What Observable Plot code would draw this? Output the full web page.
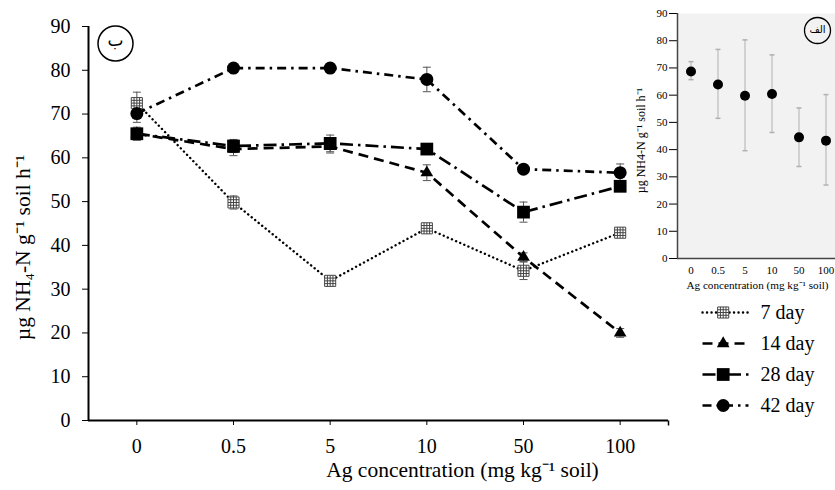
<!DOCTYPE html>
<html>
<head>
<meta charset="utf-8">
<script src="https://cdn.jsdelivr.net/npm/d3@7"></script>
<script src="https://cdn.jsdelivr.net/npm/@observablehq/plot@0.6"></script>
<style>
  html, body { margin: 0; padding: 0; background: #fff; overflow: hidden; }
  #wrap { position: relative; width: 835px; height: 490px; overflow: hidden; font-family: "Liberation Serif", "Times New Roman", serif; }
  #wrap > svg { position: absolute; margin: 0; font-family: "Liberation Serif", "Times New Roman", serif !important; }
  #wrap > svg .ar { font-family: "DejaVu Sans", sans-serif !important; }
</style>
</head>
<body>
<div id="wrap"></div>
<script>
// ---- data ----
const concentrations = ["0", "0.5", "5", "10", "50", "100"];
const seriesNames = ["7 day", "14 day", "28 day", "42 day"];
const day7  = [72.5, 49.8, 31.9, 43.9, 34.2, 42.9];
const err7  = [2.5, 1.5, 0.8, 1.0, 2.0, 0.8];
const day14 = [65.5, 62.0, 62.6, 56.6, 37.3, 20.0];
const err14 = [1.0, 1.5, 1.5, 1.8, 1.0, 1.0];
const day28 = [65.5, 62.7, 63.3, 62.0, 47.6, 53.5];
const err28 = [1.5, 1.5, 1.9, 0.8, 2.3, 0.8];
const day42 = [70.1, 80.5, 80.5, 77.9, 57.4, 56.6];
const err42 = [2.0, 0.8, 0.8, 2.8, 0.8, 2.0];
// inset (panel الف)
const insetMean = [68.7, 63.9, 59.8, 60.4, 44.5, 43.3];
const insetLow  = [65.7, 51.5, 39.6, 46.3, 33.8, 27.0];
const insetHigh = [72.3, 76.8, 80.3, 74.8, 55.3, 60.2];
const yTicks = [0, 10, 20, 30, 40, 50, 60, 70, 80, 90];

// ---- styles ----
const FONT = "Liberation Serif";
const capSymbol = { draw(ctx) { ctx.moveTo(-4, 0); ctx.lineTo(4, 0); } };
const smallCap = { draw(ctx) { ctx.moveTo(-2.5, 0); ctx.lineTo(2.5, 0); } };
const endTick = { draw(ctx) { ctx.moveTo(0, 0); ctx.lineTo(0, 5); } };
const hatchSquare = { draw(ctx, size) {
  const h = Math.sqrt(size / Math.PI) * 0.88;
  ctx.moveTo(-h, -h); ctx.lineTo(h, -h); ctx.lineTo(h, h); ctx.lineTo(-h, h); ctx.closePath();
  for (const f of [-0.5, 0, 0.5]) {
    ctx.moveTo(-h, f * h); ctx.lineTo(h, f * h);
    ctx.moveTo(f * h, -h); ctx.lineTo(f * h, h);
  }
}};

const styles = [
  {dash: "0.1 4.4", width: 2.4, cap: "round", marker: {symbol: hatchSquare, r: 6.3, fill: "#fff", stroke: "#444", strokeWidth: 1}},
  {dash: "10 6", width: 2.7, cap: "butt", marker: {symbol: "triangle", r: 4.7, fill: "#000"}},
  {dash: "13 5 2.5 5", width: 2.7, cap: "butt", marker: {symbol: "square", r: 7.2, fill: "#000"}},
  {dash: "9 5 2.5 5", width: 2.7, cap: "butt", marker: {symbol: "circle", r: 6.5, fill: "#000"}}
];

const values = [day7, day14, day28, day42];
const errors = [err7, err14, err28, err42];
const rowsBySeries = values.map((vals, k) =>
  vals.map((v, i) => ({i, conc: concentrations[i], series: seriesNames[k], v, e: errors[k][i]})));

// ---- main panel (ب) ----
const mainMarks = [];
rowsBySeries.forEach((rows, k) => {
  mainMarks.push(
    Plot.ruleX(rows, {x: "i", y1: d => d.v - d.e, y2: d => d.v + d.e, stroke: "#555", strokeWidth: 1}),
    Plot.dot(rows, {x: "i", y: d => d.v + d.e, symbol: capSymbol, stroke: "#555", fill: "none", strokeWidth: 1}),
    Plot.dot(rows, {x: "i", y: d => d.v - d.e, symbol: capSymbol, stroke: "#555", fill: "none", strokeWidth: 1})
  );
});
rowsBySeries.forEach((rows, k) => {
  const s = styles[k];
  mainMarks.push(Plot.line(rows, {x: "i", y: "v", stroke: "#000", strokeWidth: s.width,
    strokeDasharray: s.dash, strokeLinecap: s.cap}));
});
rowsBySeries.forEach((rows, k) => {
  const m = styles[k].marker;
  mainMarks.push(Plot.dot(rows, {x: "i", y: "v", symbol: m.symbol, r: m.r, fill: m.fill,
    stroke: m.stroke || "none", strokeWidth: m.strokeWidth || 0}));
});

const main = Plot.plot({
  width: 835, height: 490,
  marginLeft: 88, marginRight: 167, marginTop: 26, marginBottom: 70,
  style: {fontFamily: FONT, fontSize: "20px", color: "#000", background: "transparent"},
  x: {type: "linear", domain: [-0.5, 5.5], ticks: [0, 1, 2, 3, 4, 5], tickFormat: i => concentrations[i],
      tickSize: 5, tickPadding: 13, label: null},
  y: {domain: [0, 90], ticks: yTicks, tickSize: 6, tickPadding: 12, label: null},
  marks: [
    Plot.ruleX([-0.5], {strokeWidth: 2}),
    Plot.ruleY([0], {strokeWidth: 2}),
    Plot.dot([5.5], {x: d => d, y: () => 0, symbol: endTick, stroke: "#000", fill: "none", strokeWidth: 1.5}),
    ...mainMarks,
    Plot.text(["µg NH₄-N g⁻¹ soil h⁻¹"], {frameAnchor: "left", textAnchor: "middle", dx: -65, dy: 24, rotate: -90,
      fontSize: 21.5, text: d => d, fill: "#000"}),
    Plot.text(["Ag concentration (mg kg⁻¹ soil)"], {frameAnchor: "bottom", textAnchor: "middle", dx: 84, dy: 50,
      lineAnchor: "middle", fontSize: 21.5, text: d => d, fill: "#000"}),
    Plot.dot(["ب"], {frameAnchor: "top-left", dx: 27, dy: 17, r: 17.5, stroke: "#000", strokeWidth: 1.5, fill: "none"}),
    Plot.text(["ب"], {frameAnchor: "top-left", dx: 27, dy: 14, text: d => d, fontSize: 17,
      className: "ar", lineAnchor: "middle", fill: "#000"})
  ]
});
main.style.left = "0px"; main.style.top = "0px";
document.getElementById("wrap").appendChild(main);

// ---- inset panel (الف) ----
const insetRows = insetMean.map((v, i) => ({i, v, lo: insetLow[i], hi: insetHigh[i]}));
const inset = Plot.plot({
  width: 215, height: 300,
  marginLeft: 52, marginRight: 1, marginTop: 13, marginBottom: 42,
  style: {fontFamily: FONT, fontSize: "11px", color: "#000", background: "transparent", overflow: "visible"},
  x: {type: "linear", domain: [-0.5, 5.5], ticks: [0, 1, 2, 3, 4, 5], tickFormat: i => concentrations[i],
      tickSize: 0, tickPadding: 8, label: null},
  y: {domain: [0, 90], ticks: yTicks, tickSize: 8, tickPadding: 2, label: null},
  marks: [
    Plot.frame({fill: "#f2f2f2", stroke: "none"}),
    Plot.ruleX([-0.5], {stroke: "#444", strokeWidth: 1.5}),
    Plot.ruleY([0], {stroke: "#444", strokeWidth: 1.5}),
    Plot.ruleX(insetRows, {x: "i", y1: "lo", y2: "hi", stroke: "#b0b0b0", strokeWidth: 1}),
    Plot.dot(insetRows, {x: "i", y: "hi", symbol: smallCap, stroke: "#b0b0b0", fill: "none"}),
    Plot.dot(insetRows, {x: "i", y: "lo", symbol: smallCap, stroke: "#b0b0b0", fill: "none"}),
    Plot.dot(insetRows, {x: "i", y: "v", r: 5, fill: "#000"}),
    Plot.text(["µg NH4-N g⁻¹ soil h⁻¹"], {frameAnchor: "left", textAnchor: "middle", dx: -36, dy: 4.5, rotate: -90,
      fontSize: 12, text: d => d, fill: "#000"}),
    Plot.text(["Ag concentration (mg kg⁻¹ soil)"], {frameAnchor: "bottom", textAnchor: "middle", dx: -1, dy: 27,
      lineAnchor: "middle", fontSize: 11.2, text: d => d, fill: "#000"}),
    Plot.dot(["الف"], {frameAnchor: "top-left", dx: 140, dy: 17, r: 13, stroke: "#000", strokeWidth: 1.3, fill: "none"}),
    Plot.text(["الف"], {frameAnchor: "top-left", dx: 140, dy: 16, text: d => d, fontSize: 10,
      className: "ar", lineAnchor: "middle", fill: "#000"})
  ]
});
inset.style.left = "625px"; inset.style.top = "0px";
document.getElementById("wrap").appendChild(inset);

// ---- legend ----
const legendLines = [];
seriesNames.forEach((name, k) => {
  const s = styles[k], m = s.marker;
  legendLines.push(
    Plot.line([{x: 0, s: name}, {x: 1, s: name}], {x: "x", y: "s", stroke: "#000", strokeWidth: s.width,
      strokeDasharray: s.dash, strokeLinecap: s.cap}),
    Plot.dot([{x: 0.45, s: name}], {x: "x", y: "s", symbol: m.symbol, r: m.r, fill: m.fill,
      stroke: m.stroke || "none", strokeWidth: m.strokeWidth || 0})
  );
});
const legend = Plot.plot({
  width: 145, height: 130,
  marginLeft: 12, marginRight: 87, marginTop: 22, marginBottom: 15,
  style: {fontFamily: FONT, fontSize: "20px", color: "#000", background: "transparent", overflow: "visible"},
  x: {domain: [0, 1], axis: null},
  y: {type: "point", domain: seriesNames, padding: 0, axis: null},
  marks: [
    ...legendLines,
    Plot.text(seriesNames, {x: () => 1, y: d => d, text: d => d, dx: 12, textAnchor: "start", fontSize: 20, fill: "#000"})
  ]
});
legend.style.left = "690px"; legend.style.top = "290px";
document.getElementById("wrap").appendChild(legend);

// Arabic labels: make sure they use a font with Arabic glyphs and are centred
d3.selectAll("#wrap svg .ar text").attr("direction", "rtl").attr("text-anchor", "middle");
</script>
</body>
</html>
